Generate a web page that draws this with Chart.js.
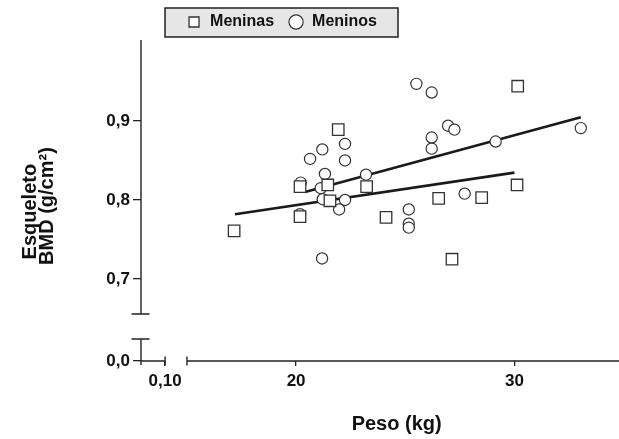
<!DOCTYPE html>
<html>
<head>
<meta charset="utf-8">
<script src="https://cdn.jsdelivr.net/npm/chart.js@4.4.1/dist/chart.umd.min.js"></script>
<style>
  html, body { margin: 0; padding: 0; background: #fff; }
</style>
</head>
<body>
<canvas id="bmd" width="619" height="439"></canvas>
<script>
// Peso (kg) x BMD (g/cm2)
const meninas = [
  [17.16, 0.761], [20.18, 0.779], [20.18, 0.817], [21.93, 0.889], [21.45, 0.819],
  [21.55, 0.799], [23.23, 0.817], [30.15, 0.944], [30.12, 0.819], [26.53, 0.802],
  [28.50, 0.803], [24.12, 0.778], [27.14, 0.725]
];
const meninos = [
  [20.18, 0.782], [20.21, 0.822], [22.24, 0.871], [21.20, 0.864], [20.64, 0.852],
  [22.24, 0.850], [21.32, 0.833], [21.13, 0.815], [21.22, 0.801], [22.24, 0.800],
  [21.97, 0.788], [23.20, 0.832], [21.19, 0.726], [25.51, 0.947], [26.21, 0.936],
  [26.96, 0.894], [27.25, 0.889], [26.21, 0.879], [26.21, 0.865], [29.14, 0.874],
  [33.04, 0.891], [27.72, 0.808], [25.16, 0.788], [25.16, 0.770], [25.16, 0.765]
];
// regression lines (end points)
const fitMeninas = [[17.2, 0.782], [30.0, 0.8346]];
const fitMeninos = [[20.41, 0.810], [33.04, 0.9047]];

const legendLabels = ['Meninas', 'Meninos'];

// broken axes: the low ends stand for 0
const X_MIN = 12.895, X_BREAK = 14, X_RESUME = 15, X_MAX = 34.79;
const Y_MIN = 0.5962, Y_BREAK_LOW = 0.6241, Y_BREAK_HIGH = 0.6557, Y_MAX = 1.0025;

const xTickValues = [X_BREAK, 20, 30];
const xTickLabels = ['0,10', '20', '30'];
const yTickValues = [Y_MIN, 0.7, 0.8, 0.9];
const yTickLabels = ['0,0', '0,7', '0,8', '0,9'];

const FONT = '"Liberation Sans", Arial, Helvetica, sans-serif';
const INK = '#222';

const toXY = arr => arr.map(p => ({x: p[0], y: p[1]}));

const brokenAxes = {
  id: 'brokenAxes',
  afterLayout(chart) {
    // legend sits in a grey box left of centre
    const lg = chart.legend;
    lg.left = 165;
    lg.right = 398;
    lg.width = lg.right - lg.left;
  },
  beforeDraw(chart) {
    const {ctx} = chart;
    const lg = chart.legend;
    ctx.save();
    ctx.fillStyle = '#e6e6e6';
    ctx.strokeStyle = INK;
    ctx.lineWidth = 1.5;
    ctx.fillRect(lg.left, 8, lg.width, 29);
    ctx.strokeRect(lg.left, 8, lg.width, 29);
    ctx.restore();
  },
  afterDraw(chart) {
    const {ctx, chartArea, scales: {x, y}} = chart;
    const left = chartArea.left, right = chartArea.right;
    const bottom = y.getPixelForValue(Y_MIN);
    const hi = y.getPixelForValue(Y_BREAK_HIGH);
    const lo = y.getPixelForValue(Y_BREAK_LOW);
    const xb = x.getPixelForValue(X_BREAK);
    const xr = x.getPixelForValue(X_RESUME);
    ctx.save();
    ctx.strokeStyle = INK;
    ctx.lineWidth = 1.4;
    ctx.beginPath();
    ctx.moveTo(left, chartArea.top); ctx.lineTo(left, hi);
    ctx.moveTo(left - 9.5, hi); ctx.lineTo(left + 8.5, hi);
    ctx.moveTo(left - 9.5, lo); ctx.lineTo(left + 8.5, lo);
    ctx.moveTo(left, lo); ctx.lineTo(left, bottom + 4);
    ctx.moveTo(left, bottom); ctx.lineTo(xb, bottom);
    ctx.moveTo(xb, bottom - 4.5); ctx.lineTo(xb, bottom + 4.5);
    ctx.moveTo(xr, bottom - 4.5); ctx.lineTo(xr, bottom + 4.5);
    ctx.moveTo(xr, bottom); ctx.lineTo(right, bottom);
    ctx.stroke();
    ctx.restore();
  }
};

const ctx = document.getElementById('bmd').getContext('2d');
new Chart(ctx, {
  type: 'scatter',
  data: {
    datasets: [
      {
        label: legendLabels[0],
        data: toXY(meninas),
        pointStyle: 'rect',
        pointRadius: 8.1,
        backgroundColor: '#fff',
        borderColor: '#333',
        borderWidth: 1.3,
        order: 0
      },
      {
        label: legendLabels[1],
        data: toXY(meninos),
        pointStyle: 'circle',
        pointRadius: 5.6,
        backgroundColor: '#fff',
        borderColor: '#333',
        borderWidth: 1.2,
        order: 1
      },
      {
        label: 'fit meninas',
        data: toXY(fitMeninas),
        showLine: true,
        pointRadius: 0,
        borderColor: '#1a1a1a',
        borderWidth: 2.6,
        order: 2
      },
      {
        label: 'fit meninos',
        data: toXY(fitMeninos),
        showLine: true,
        pointRadius: 0,
        borderColor: '#1a1a1a',
        borderWidth: 2.6,
        order: 2
      }
    ]
  },
  options: {
    responsive: false,
    animation: false,
    layout: { padding: 0, autoPadding: false },
    plugins: {
      tooltip: { enabled: false },
      legend: {
        position: 'top',
        labels: {
          usePointStyle: true,
          boxHeight: 10,
          padding: 14,
          color: '#111',
          font: { family: FONT, size: 16, weight: 'bold' },
          filter: item => item.datasetIndex < 2
        }
      }
    },
    scales: {
      x: {
        type: 'linear',
        min: X_MIN,
        max: X_MAX,
        afterBuildTicks: s => { s.ticks = xTickValues.map(v => ({value: v})); },
        afterFit: s => { s.height = 78; },
        ticks: {
          autoSkip: false,
          maxRotation: 0,
          padding: 5,
          color: '#111',
          font: { family: FONT, size: 17, weight: 'bold' },
          callback: (v, i) => xTickLabels[i]
        },
        grid: { drawOnChartArea: false, drawTicks: true, tickLength: 5, color: INK, lineWidth: 1.3 },
        border: { display: false },
        title: {
          display: true,
          text: '      Peso (kg)',
          color: '#111',
          font: { family: FONT, size: 20, weight: 'bold' },
          padding: { top: 0, bottom: 3 }
        }
      },
      y: {
        type: 'linear',
        min: Y_MIN,
        max: Y_MAX,
        afterBuildTicks: s => { s.ticks = yTickValues.map(v => ({value: v})); },
        afterFit: s => { s.width = 141; },
        ticks: {
          autoSkip: false,
          padding: 3,
          color: '#111',
          font: { family: FONT, size: 17, weight: 'bold' },
          callback: (v, i) => yTickLabels[i]
        },
        grid: { drawOnChartArea: false, drawTicks: true, tickLength: 8, color: INK, lineWidth: 1.3 },
        border: { display: false },
        title: {
          display: true,
          text: ['Esqueleto    ', 'BMD (g/cm\u00B2)  '],
          color: '#111',
          font: { family: FONT, size: 20, weight: 'bold', lineHeight: 0.85 },
          padding: { top: 21.5, bottom: 0 }
        }
      }
    }
  },
  plugins: [brokenAxes]
});
</script>
</body>
</html>
